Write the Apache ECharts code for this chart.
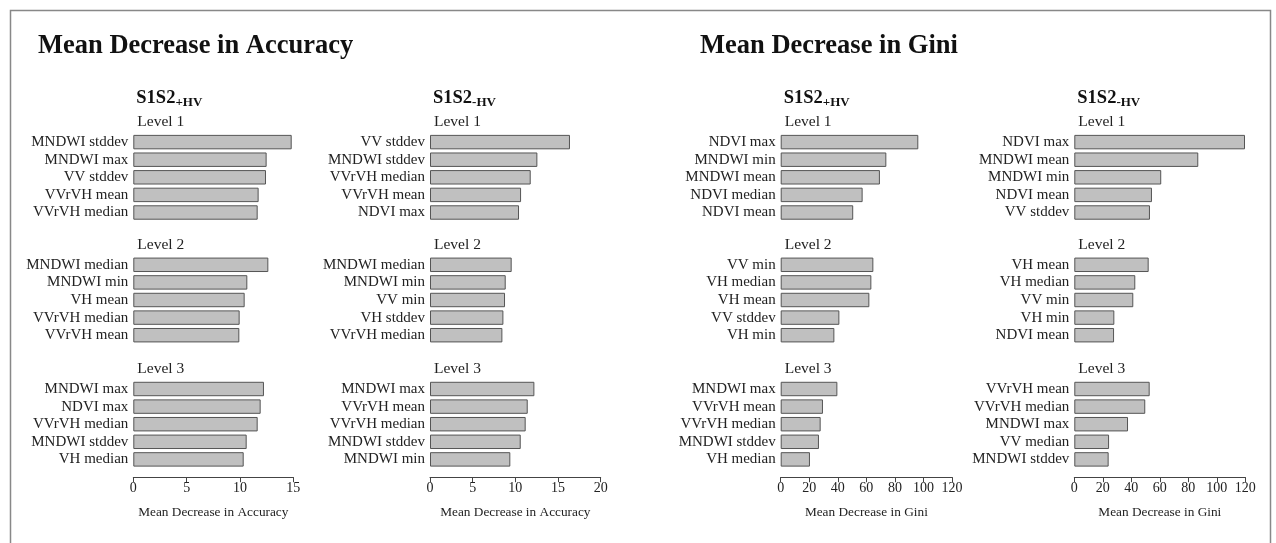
<!DOCTYPE html>
<html>
<head>
<meta charset="utf-8">
<style>
html,body{margin:0;padding:0;background:#fff;}
#chart{width:1276px;height:543px;}
</style>
<script src="https://cdn.jsdelivr.net/npm/echarts@6/dist/echarts.min.js"></script>
</head>
<body>
<div id="chart"></div>
<script>
// ---- Data ----
const mainTitles = ["Mean Decrease in Accuracy", "Mean Decrease in Gini"];
const columnTitles = [["S1S2", "+HV"], ["S1S2", "-HV"], ["S1S2", "+HV"], ["S1S2", "-HV"]];
const levelLabels = ["Level 1", "Level 2", "Level 3"];
const axisNames = ["Mean Decrease in Accuracy", "Mean Decrease in Accuracy", "Mean Decrease in Gini", "Mean Decrease in Gini"];
const axisMax = [15, 20, 120, 120];
const axisStep = [5, 5, 20, 20];

// Accuracy, S1S2 +HV
const accPlusL1Cats = ["MNDWI stddev", "MNDWI max", "VV stddev", "VVrVH mean", "VVrVH median"];
const accPlusL1Vals = [14.85, 12.5, 12.44, 11.75, 11.66];
const accPlusL2Cats = ["MNDWI median", "MNDWI min", "VH mean", "VVrVH median", "VVrVH mean"];
const accPlusL2Vals = [12.66, 10.69, 10.44, 9.97, 9.94];
const accPlusL3Cats = ["MNDWI max", "NDVI max", "VVrVH median", "MNDWI stddev", "VH median"];
const accPlusL3Vals = [12.25, 11.94, 11.66, 10.63, 10.35];

// Accuracy, S1S2 -HV
const accMinusL1Cats = ["VV stddev", "MNDWI stddev", "VVrVH median", "VVrVH mean", "NDVI max"];
const accMinusL1Vals = [16.4, 12.58, 11.8, 10.67, 10.43];
const accMinusL2Cats = ["MNDWI median", "MNDWI min", "VV min", "VH stddev", "VVrVH median"];
const accMinusL2Vals = [9.57, 8.87, 8.79, 8.6, 8.48];
const accMinusL3Cats = ["MNDWI max", "VVrVH mean", "VVrVH median", "MNDWI stddev", "MNDWI min"];
const accMinusL3Vals = [12.23, 11.45, 11.21, 10.63, 9.41];

// Gini, S1S2 +HV
const giniPlusL1Cats = ["NDVI max", "MNDWI min", "MNDWI mean", "NDVI median", "NDVI mean"];
const giniPlusL1Vals = [96.4, 74.0, 69.5, 57.4, 50.8];
const giniPlusL2Cats = ["VV min", "VH median", "VH mean", "VV stddev", "VH min"];
const giniPlusL2Vals = [64.9, 63.5, 62.1, 41.1, 37.6];
const giniPlusL3Cats = ["MNDWI max", "VVrVH mean", "VVrVH median", "MNDWI stddev", "VH median"];
const giniPlusL3Vals = [39.7, 29.6, 28.0, 26.8, 20.5];

// Gini, S1S2 -HV
const giniMinusL1Cats = ["NDVI max", "MNDWI mean", "MNDWI min", "NDVI mean", "VV stddev"];
const giniMinusL1Vals = [119.8, 87.0, 61.0, 54.5, 53.1];
const giniMinusL2Cats = ["VH mean", "VH median", "VV min", "VH min", "NDVI mean"];
const giniMinusL2Vals = [52.2, 42.8, 41.4, 28.1, 27.9];
const giniMinusL3Cats = ["VVrVH mean", "VVrVH median", "MNDWI max", "VV median", "MNDWI stddev"];
const giniMinusL3Vals = [52.9, 49.8, 37.7, 24.4, 24.1];

const panels = [
  [[accPlusL1Cats, accPlusL1Vals], [accPlusL2Cats, accPlusL2Vals], [accPlusL3Cats, accPlusL3Vals]],
  [[accMinusL1Cats, accMinusL1Vals], [accMinusL2Cats, accMinusL2Vals], [accMinusL3Cats, accMinusL3Vals]],
  [[giniPlusL1Cats, giniPlusL1Vals], [giniPlusL2Cats, giniPlusL2Vals], [giniPlusL3Cats, giniPlusL3Vals]],
  [[giniMinusL1Cats, giniMinusL1Vals], [giniMinusL2Cats, giniMinusL2Vals], [giniMinusL3Cats, giniMinusL3Vals]]
];

// ---- Layout ----
const FONT = "'Liberation Serif', 'Times New Roman', serif";
const colLeft = [133.3, 430, 780.7, 1074.3];
const colWidth = [160, 170.7, 171.3, 171];
const levelTop = [133.3, 256, 380.2];
const gridH = 88;

const grids = [], xAxes = [], yAxes = [], series = [], graphics = [];
let idx = 0;
for (let c = 0; c < 4; c++) {
  for (let l = 0; l < 3; l++) {
    const [cats, vals] = panels[c][l];
    const isBottom = l === 2;
    grids.push({ left: colLeft[c], top: levelTop[l], width: colWidth[c], height: gridH, containLabel: false, outerBoundsMode: 'none' });
    xAxes.push({
      type: 'value', gridIndex: idx, min: 0, max: axisMax[c], interval: axisStep[c],
      show: isBottom, position: 'bottom', offset: 9,
      splitLine: { show: false },
      axisLine: { show: true, lineStyle: { color: '#444', width: 1 } },
      axisTick: { show: true, length: 5, lineStyle: { color: '#444' } },
      axisLabel: { color: '#222', fontFamily: FONT, fontSize: 14, margin: 4, showMinLabel: true, showMaxLabel: true },
      name: axisNames[c], nameLocation: 'middle', nameGap: 29,
      nameTextStyle: { color: '#222', fontFamily: FONT, fontSize: 13.3 }
    });
    yAxes.push({
      type: 'category', gridIndex: idx, data: cats, inverse: true,
      axisLine: { show: false }, axisTick: { show: false }, splitLine: { show: false },
      axisLabel: { color: '#222', fontFamily: FONT, fontSize: 15, margin: 5, interval: 0 }
    });
    series.push({
      type: 'bar', xAxisIndex: idx, yAxisIndex: idx, data: vals,
      barCategoryGap: '18%', silent: true, animation: false,
      itemStyle: { color: '#c0c0c0', borderColor: '#555', borderWidth: 1 }
    });
    graphics.push({
      type: 'text', left: colLeft[c] + 4, top: levelTop[l] - 19,
      style: { text: levelLabels[l], fill: '#222', font: "15.5px " + FONT }
    });
    idx++;
  }
  graphics.push({
    type: 'text', left: colLeft[c] + 3, top: 89,
    style: {
      text: '{a|' + columnTitles[c][0] + '}{b|' + columnTitles[c][1] + '}',
      rich: {
        a: { fontFamily: FONT, fontSize: 18.5, fontWeight: 'bold', fill: '#111', verticalAlign: 'bottom' },
        b: { fontFamily: FONT, fontSize: 13, fontWeight: 'bold', fill: '#111', verticalAlign: 'bottom', padding: [0, 0, -1, 0] }
      }
    }
  });
}
graphics.push({ type: 'text', left: 38, top: 33, style: { text: mainTitles[0], fill: '#111', font: "bold 26.5px " + FONT } });
graphics.push({ type: 'text', left: 700, top: 33, style: { text: mainTitles[1], fill: '#111', font: "bold 26.5px " + FONT } });
graphics.push({ type: 'rect', left: 8, top: 8, shape: { width: 1260, height: 560 }, style: { fill: 'none', stroke: '#888', lineWidth: 1.5 }, z: -1 });

const chart = echarts.init(document.getElementById('chart'), null, { renderer: 'canvas' });
chart.setOption({
  animation: false,
  backgroundColor: '#fff',
  grid: grids, xAxis: xAxes, yAxis: yAxes, series: series,
  graphic: graphics
});
</script>
</body>
</html>
